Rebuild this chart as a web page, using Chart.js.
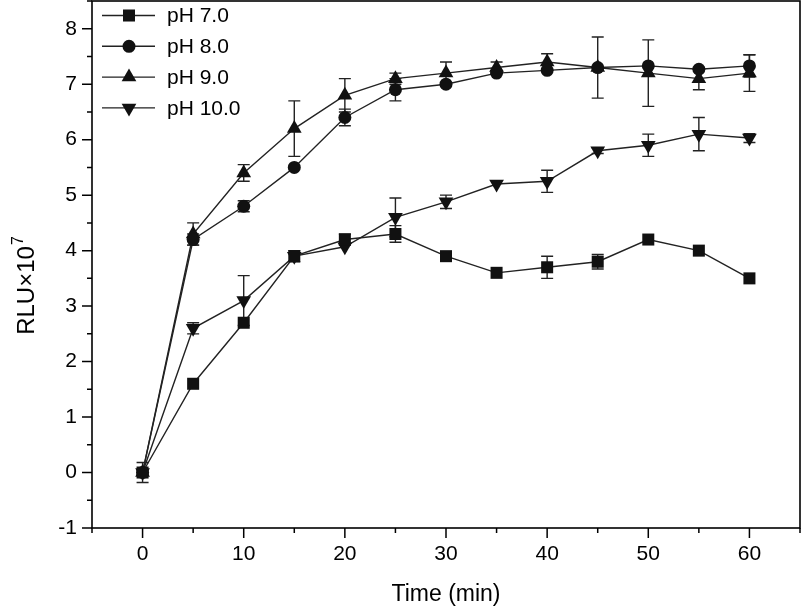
<!DOCTYPE html>
<html>
<head>
<meta charset="utf-8">
<script src="https://cdn.jsdelivr.net/npm/chart.js@4.4.0/dist/chart.umd.min.js"></script>
<style>
html,body{margin:0;padding:0;background:#fff;}
#wrap{width:803px;height:612px;position:relative;}
</style>
</head>
<body>
<div id="wrap"><canvas id="c" width="803" height="612"></canvas></div>
<script>
// ---- data ----
const times = [0, 5, 10, 15, 20, 25, 30, 35, 40, 45, 50, 55, 60];
const ph7  = [0, 1.6, 2.7, 3.9, 4.2, 4.3, 3.9, 3.6, 3.7, 3.8, 4.2, 4.0, 3.5];
const ph8  = [0, 4.2, 4.8, 5.5, 6.4, 6.9, 7.0, 7.2, 7.25, 7.3, 7.33, 7.27, 7.33];
const ph9  = [0, 4.3, 5.4, 6.2, 6.8, 7.1, 7.2, 7.3, 7.4, 7.3, 7.2, 7.1, 7.2];
const ph10 = [0, 2.6, 3.1, 3.9, 4.07, 4.6, 4.88, 5.2, 5.25, 5.8, 5.9, 6.1, 6.03];
const err7  = [0.18, 0, 0, 0.1, 0.1, 0.15, 0, 0, 0.2, 0.13, 0, 0, 0];
const err8  = [0, 0.1, 0.1, 0, 0.15, 0.2, 0, 0, 0, 0, 0, 0, 0.2];
const err9  = [0, 0.2, 0.15, 0.5, 0.3, 0.1, 0.2, 0.1, 0.15, 0.55, 0.6, 0.2, 0.33];
const err10 = [0, 0.1, 0.45, 0, 0, 0.35, 0.12, 0, 0.2, 0.05, 0.2, 0.3, 0.08];
const seriesLabels = ['pH 7.0', 'pH 8.0', 'pH 9.0', 'pH 10.0'];
const xTitle = 'Time (min)';
const yTitleMain = 'RLU×10';
const yTitleSup = '7';

const FONT = "'Liberation Sans', Arial, sans-serif";
const INK = '#111';

function pts(arr){ return arr.map((v,i)=>({x: times[i], y: v})); }

const styles = [
  {pointStyle:'rect', radius:8.5, rotation:0},
  {pointStyle:'circle', radius:6.5, rotation:0},
  {pointStyle:'triangle', radius:8.5, rotation:0},
  {pointStyle:'triangle', radius:8.5, rotation:180}
];
const values = [ph7, ph8, ph9, ph10];
const errors = [err7, err8, err9, err10];

const datasets = values.map((v,k)=>({
  label: seriesLabels[k],
  data: pts(v),
  errors: errors[k],
  borderColor: '#222',
  borderWidth: 1.4,
  backgroundColor: INK,
  pointBackgroundColor: INK,
  pointBorderColor: INK,
  pointBorderWidth: 0,
  pointStyle: styles[k].pointStyle,
  pointRadius: styles[k].radius,
  pointRotation: styles[k].rotation,
  pointHoverRadius: styles[k].radius,
  tension: 0,
  fill: false
}));

const decor = {
  id: 'decor',
  beforeDatasetsDraw(chart){
    const ctx = chart.ctx, xs = chart.scales.x, ys = chart.scales.y;
    ctx.save();
    ctx.strokeStyle = '#222';
    ctx.lineWidth = 1.4;
    chart.data.datasets.forEach(ds=>{
      ds.data.forEach((p,i)=>{
        const e = ds.errors[i];
        if(!e) return;
        const px = xs.getPixelForValue(p.x);
        const top = ys.getPixelForValue(p.y + e);
        const bot = ys.getPixelForValue(p.y - e);
        ctx.beginPath();
        ctx.moveTo(px, top); ctx.lineTo(px, bot);
        ctx.moveTo(px-6, top); ctx.lineTo(px+6, top);
        ctx.moveTo(px-6, bot); ctx.lineTo(px+6, bot);
        ctx.stroke();
      });
    });
    ctx.restore();
  },
  afterDraw(chart){
    const ctx = chart.ctx, a = chart.chartArea, xs = chart.scales.x, ys = chart.scales.y;
    ctx.save();
    ctx.strokeStyle = '#000';
    ctx.lineWidth = 1.6;
    ctx.strokeRect(a.left, a.top, a.right - a.left, a.bottom - a.top);
    ctx.lineWidth = 1.5;
    ctx.beginPath();
    for (let v = xs.min; v <= xs.max + 1e-9; v += 5) {
      const px = xs.getPixelForValue(v);
      const major = Math.round(v) % 10 === 0;
      ctx.moveTo(px, a.bottom); ctx.lineTo(px, a.bottom + (major ? 10 : 5));
    }
    for (let v = ys.min; v <= ys.max + 1e-9; v += 0.5) {
      const py = ys.getPixelForValue(v);
      const major = Math.abs(v - Math.round(v)) < 1e-9;
      ctx.moveTo(a.left, py); ctx.lineTo(a.left - (major ? 10 : 5), py);
    }
    ctx.stroke();

    // y title with superscript
    ctx.fillStyle = '#000';
    ctx.translate(34, 286);
    ctx.rotate(-Math.PI/2);
    ctx.font = '24px ' + FONT;
    const w1 = ctx.measureText(yTitleMain).width;
    ctx.font = '16px ' + FONT;
    const w2 = ctx.measureText(yTitleSup).width;
    const start = -(w1 + w2)/2;
    ctx.textBaseline = 'alphabetic';
    ctx.textAlign = 'left';
    ctx.font = '24px ' + FONT;
    ctx.fillText(yTitleMain, start, 0);
    ctx.font = '16px ' + FONT;
    ctx.fillText(yTitleSup, start + w1 + 1, -11);
    ctx.restore();

    // legend
    ctx.save();
    chart.data.datasets.forEach((ds,k)=>{
      const y = 15.5 + k*30.8;
      ctx.strokeStyle = '#222';
      ctx.lineWidth = 1.4;
      ctx.beginPath(); ctx.moveTo(102, y); ctx.lineTo(155, y); ctx.stroke();
      ctx.fillStyle = INK;
      Chart.helpers.drawPoint(ctx, {pointStyle: ds.pointStyle, radius: ds.pointRadius, rotation: ds.pointRotation, borderWidth: 0}, 129, y);
      ctx.fillStyle = '#000';
      ctx.font = '21px ' + FONT;
      ctx.textBaseline = 'middle';
      ctx.textAlign = 'left';
      ctx.fillText(ds.label, 167, y + 1);
    });
    ctx.restore();
  }
};

new Chart(document.getElementById('c'), {
  type: 'line',
  data: { datasets },
  options: {
    responsive: false,
    animation: false,
    layout: { autoPadding: false, padding: { left: 0, right: 3, top: 1, bottom: 0 } },
    plugins: { legend: { display: false }, tooltip: { enabled: false } },
    scales: {
      x: {
        type: 'linear', min: -5, max: 65,
        grid: { display: false, drawTicks: true, tickLength: 14 },
        border: { display: false },
        ticks: {
          stepSize: 5, autoSkip: false, maxRotation: 0, color: '#000',
          font: { family: FONT, size: 21 }, padding: 0
        },
        afterBuildTicks: s => { s.ticks = s.ticks.filter(t => Math.round(t.value) % 10 === 0 && t.value >= 0 && t.value <= 60); },
        title: { display: true, text: xTitle, color: '#000', font: { family: FONT, size: 23 }, padding: { top: 2, bottom: 4 } },
        afterFit: s => { s.height = 84; s.paddingLeft = 0; s.paddingRight = 0; }
      },
      y: {
        type: 'linear', min: -1, max: 8.5,
        grid: { display: false, drawTicks: true, tickLength: 15 },
        border: { display: false },
        ticks: {
          stepSize: 0.5, autoSkip: false, color: '#000',
          font: { family: FONT, size: 21, lineHeight: 0.1 }, padding: 0
        },
        afterBuildTicks: s => { s.ticks = s.ticks.filter(t => Number.isInteger(t.value)); },
        afterFit: s => { s.width = 92; s.paddingTop = 0; s.paddingBottom = 0; }
      }
    }
  },
  plugins: [decor]
});
</script>
</body>
</html>
